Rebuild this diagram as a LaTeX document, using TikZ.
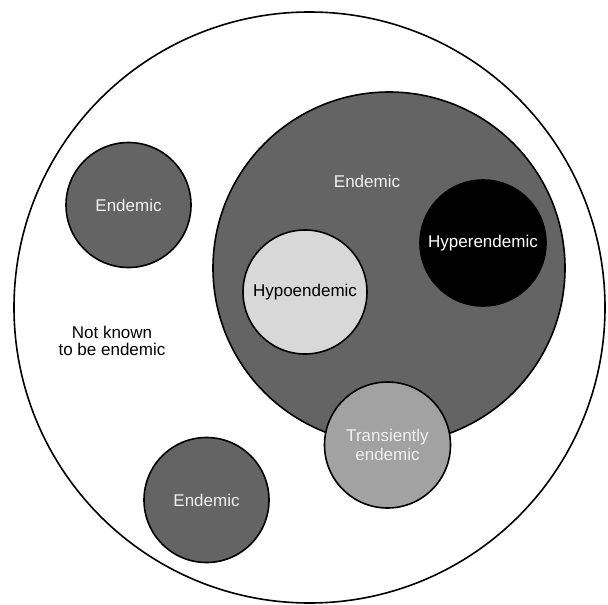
\documentclass[tikz,border=0pt]{standalone}
\usepackage{fontspec}
\setmainfont{Liberation Sans}
\usepackage{tikz}
\usetikzlibrary{positioning}
\definecolor{zonegray}{HTML}{646464}
\definecolor{hypogray}{HTML}{D8D8D8}
\definecolor{transgray}{HTML}{A2A2A2}
\definecolor{labelwhite}{HTML}{F0F0F0}
\tikzstyle{zone} = [circle, draw=black, line width=1.6pt, inner sep=0pt, align=center, font=\fontsize{17}{19}\selectfont]
\tikzstyle{endemic} = [zone, fill=zonegray, text=labelwhite, minimum size=125pt]

\begin{document}
\begin{tikzpicture}[x=1pt, y=-1pt]
  \useasboundingbox (0,0) rectangle (608,605);
  \node[zone, fill=white, minimum size=591pt] (world) at (309.5,307.5) {};
  \node[endemic, minimum size=352pt] (region) at (389,268) {};
  \node[font=\fontsize{17}{19}\selectfont, text=labelwhite] (regionlbl) at (367,181) {Endemic};
  \node[zone, fill=black, text=white, minimum size=126pt] (hyper) at (483,243) {Hyperendemic};
  \node[zone, fill=hypogray, text=black, minimum size=124pt] (hypo) at (305,292) {Hypoendemic};
  \node[zone, fill=transgray, text=labelwhite, minimum size=126pt] (trans) at (387.5,445) {Transiently\\endemic};
  \node[endemic] (islandA) at (128.5,205) {Endemic};
  \node[endemic] (islandB) at (206.5,500) {Endemic};
  \node[align=center, font=\fontsize{17}{16.5}\selectfont] (unknown) at (112,341) {Not known\\to be endemic};
\end{tikzpicture}
\end{document}
